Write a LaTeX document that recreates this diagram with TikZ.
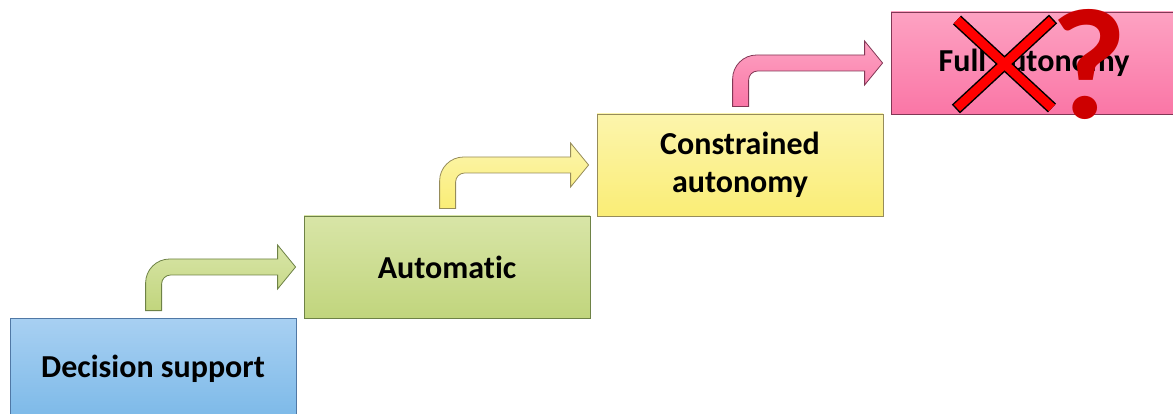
\documentclass[tikz,border=0pt]{standalone}
\usepackage{fontspec}
\setmainfont{Carlito}[Ligatures=NoCommon]
\usetikzlibrary{calc}
\definecolor{blueTop}{RGB}{168,208,242}
\definecolor{blueBot}{RGB}{124,185,232}
\definecolor{blueLine}{RGB}{80,120,165}
\definecolor{greenTop}{RGB}{216,229,167}
\definecolor{greenBot}{RGB}{193,213,125}
\definecolor{greenLine}{RGB}{110,130,70}
\definecolor{yellowTop}{RGB}{252,245,172}
\definecolor{yellowBot}{RGB}{250,237,118}
\definecolor{yellowLine}{RGB}{150,140,90}
\definecolor{pinkTop}{RGB}{253,162,194}
\definecolor{pinkBot}{RGB}{250,118,166}
\definecolor{pinkLine}{RGB}{130,55,85}
\begin{document}
\begin{tikzpicture}[x=1pt, y=-1pt,
    stage/.style ={draw, line width=0.8pt, minimum width=286pt, minimum height=102pt,
      align=center, font=\fontsize{32}{38}\selectfont\bfseries},
    bent/.style ={draw=#1Line, line width=0.8pt, top color=#1Top, bottom color=#1Bot},
    cross/.style ={line width=#1, line cap=butt}]
   \useasboundingbox (0,0) rectangle (1173,414);
   \node[stage, draw=blueLine, top color=blueTop, bottom color=blueBot] (A) at (153,369) {Decision support};
   \node[stage, draw=greenLine, top color=greenTop, bottom color=greenBot] (B) at (447,267) {Automatic};
   \node[stage, draw=yellowLine, top color=yellowTop, bottom color=yellowBot] (C) at (740,165) {Constrained\\autonomy};
   \node[stage, draw=pinkLine, top color=pinkTop, bottom color=pinkBot] (D) at (1034,63) {Full autonomy};
   % bent arrows between the steps
   \foreach \a/\b/\c in {A/B/green, B/C/yellow, C/D/pink}
     \path[bent=\c] let \p1=(\a.north west), \p2=(\b.west) in
       (\x1+136pt, \y1+7pt) -- (\x1+136pt, \y2+8pt-24pt)
       arc[start angle=180, end angle=90, radius=24pt]
       -- (\x2-26pt, \y2+8pt) -- (\x2-26pt, \y2+22pt) -- (\x2-8pt, \y2)
       -- (\x2-26pt, \y2-22pt) -- (\x2-26pt, \y2-8pt)
       -- (\x1+161pt, \y2-8pt)
       arc[start angle=90, end angle=180, radius=9pt]
       -- (\x1+152pt, \y1+7pt) -- cycle;
   % crossed out
   \coordinate (X1) at (957,20);
   \coordinate (X2) at (1052,108);
   \coordinate (X3) at (1052,20);
   \coordinate (X4) at (957,108);
   \draw[cross=12pt, black, shorten <=-1.5pt, shorten >=-1.5pt] (X1) -- (X2) (X3) -- (X4);
   \draw[cross=9pt, red] (X1) -- (X2) (X3) -- (X4);
   \node[text={rgb,255:red,205;green,0;blue,0}, inner sep=0pt, xscale=1.05,
     font=\fontsize{158}{158}\selectfont\bfseries] (Q) at (1089,64) {?};
 \end{tikzpicture}
\end{document}
